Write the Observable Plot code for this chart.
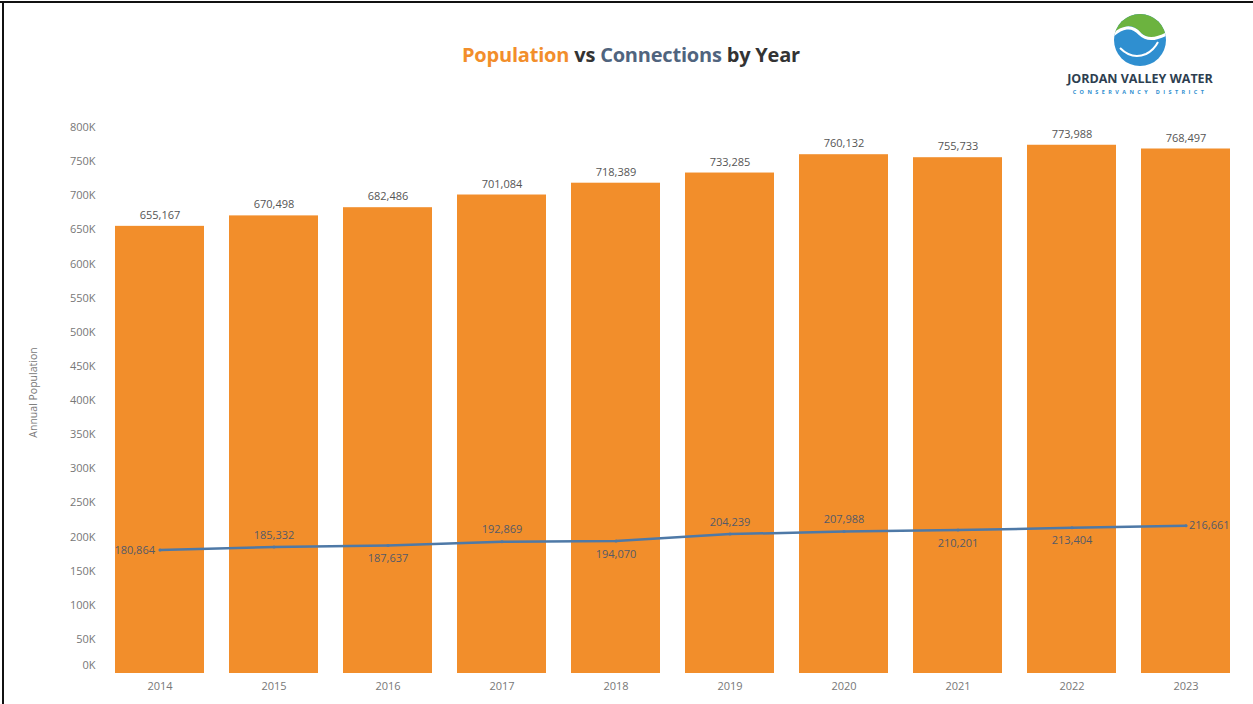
<!DOCTYPE html>
<html>
<head>
<meta charset="utf-8">
<script src="https://cdn.jsdelivr.net/npm/d3@7"></script>
<script src="https://cdn.jsdelivr.net/npm/@observablehq/plot@0.6"></script>
<style>
  html, body { margin: 0; padding: 0; background: #fff; }
  #frame { position: relative; width: 1253px; height: 704px; overflow: hidden; background: #fff;
           font-family: "Open Sans", Lato, sans-serif; }
  #borderTop { position: absolute; left: 0; top: 1px; width: 1253px; height: 2px; background: #111; }
  #borderLeft { position: absolute; left: 2px; top: 1px; width: 2px; height: 703px; background: #111; }
  #title { position: absolute; top: 41px; left: 0; width: 1262px; text-align: center;
           font-family: "Open Sans", sans-serif; font-weight: 700; font-size: 20px; color: #333; letter-spacing: -0.2px; }
  #title .pop { color: #f28e2b; }
  #title .con { color: #50647e; }
  #chart { position: absolute; left: 0; top: 100px; }
  #logo { position: absolute; left: 1050px; top: 8px; }
</style>
</head>
<body>
<div id="frame">
  <div id="borderTop"></div>
  <div id="borderLeft"></div>
  <div id="title"><span class="pop">Population</span> vs <span class="con">Connections</span> by Year</div>
  <svg id="logo" width="200" height="92" viewBox="0 0 200 92">
    <defs>
      <clipPath id="circ"><circle cx="90" cy="32" r="26"/></clipPath>
    </defs>
    <g clip-path="url(#circ)">
      <rect x="60" y="0" width="60" height="70" fill="#2f8fd0"/>
      <path d="M60 30 Q78 10 90 24 Q102 36 120 22 L120 0 L60 0 Z" fill="#6cb33f"/>
      <path d="M60 30 Q78 12 90 26 Q100 36 120 24" fill="none" stroke="#fff" stroke-width="3"/>
      <path d="M70 40 Q82 52 96 46 Q104 42 108 34" fill="none" stroke="#fff" stroke-width="2"/>
    </g>
    <text x="90" y="75" text-anchor="middle" font-family="Open Sans, sans-serif" font-weight="700" font-size="12.5" fill="#2d3e50">JORDAN VALLEY WATER</text>
    <text x="90" y="86" text-anchor="middle" font-family="Open Sans, sans-serif" font-weight="700" font-size="5.5" letter-spacing="3.4" fill="#2f8fd0">CONSERVANCY DISTRICT</text>
  </svg>
  <div id="chart"></div>
</div>
<script>
// ---- data ----
const years = ["2014","2015","2016","2017","2018","2019","2020","2021","2022","2023"];
const population = [655167, 670498, 682486, 701084, 718389, 733285, 760132, 755733, 773988, 768497];
const connections = [180864, 185332, 187637, 192869, 194070, 204239, 207988, 210201, 213404, 216661];
const yTicks = [0, 50000, 100000, 150000, 200000, 250000, 300000, 350000, 400000, 450000, 500000, 550000, 600000, 650000, 700000, 750000, 800000];

// ---- presentation ----
const connLabelPlacement = ["left","above","below","above","below","above","above","below","below","right"];

const rows = years.map((y, i) => ({year: y, pop: population[i], conn: connections[i], place: connLabelPlacement[i]}));
const fmt = d3.format(",");
const kfmt = d => (d / 1000) + "K";

const labelFont = {fontFamily: "Open Sans, sans-serif", fontSize: 11};

const chart = Plot.plot({
  width: 1253,
  height: 604,
  marginTop: 27,
  marginBottom: 31,
  marginLeft: 100,
  marginRight: 8,
  style: {fontFamily: "Open Sans, sans-serif", fontSize: "11px", color: "#777", background: "transparent"},
  x: {domain: years, paddingInner: 0.22, paddingOuter: 0.11, label: null},
  y: {domain: [0, 800000], label: null},
  marks: [
    Plot.barY(rows, {x: "year", y: "pop", fill: "#f28e2b"}),
    Plot.text(rows, {x: "year", y: "pop", text: d => fmt(d.pop), dy: -11, fill: "#555", ...labelFont}),
    Plot.line(rows, {x: "year", y: "conn", stroke: "#4e79a7", strokeWidth: 2.5}),
    Plot.dot(rows, {x: "year", y: "conn", r: 1.5, fill: "#4e79a7"}),
    Plot.text(rows.filter(d => d.place === "above"), {x: "year", y: "conn", text: d => fmt(d.conn), dy: -12, fill: "#545a68", ...labelFont}),
    Plot.text(rows.filter(d => d.place === "below"), {x: "year", y: "conn", text: d => fmt(d.conn), dy: 13, fill: "#545a68", ...labelFont}),
    Plot.text(rows.filter(d => d.place === "left"), {x: "year", y: "conn", text: d => fmt(d.conn), dx: -5, textAnchor: "end", fill: "#545a68", ...labelFont}),
    Plot.text(rows.filter(d => d.place === "right"), {x: "year", y: "conn", text: d => fmt(d.conn), dx: 3, textAnchor: "start", fill: "#545a68", ...labelFont}),
    Plot.axisY({ticks: yTicks.filter(d => d !== 0), tickFormat: kfmt, tickSize: 0, tickPadding: 5, fill: "#777", label: null}),
    Plot.axisY({ticks: [0], tickFormat: kfmt, tickSize: 0, tickPadding: 5, dy: -8, fill: "#777", label: null}),
    Plot.axisX({tickSize: 0, tickPadding: 9, fill: "#777", label: null}),
    Plot.text(["Annual Population"], {frameAnchor: "left", textAnchor: "middle", dx: -67, dy: -8, rotate: -90, fill: "#777", fontSize: 10.5, fontFamily: "Open Sans, sans-serif"})
  ]
});
document.getElementById("chart").appendChild(chart);
</script>
</body>
</html>
